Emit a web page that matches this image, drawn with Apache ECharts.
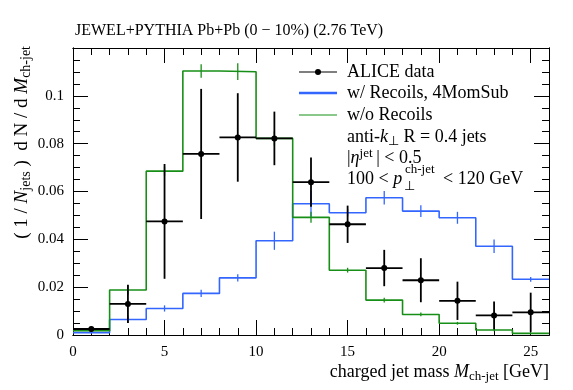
<!DOCTYPE html>
<html>
<head>
<meta charset="utf-8">
<script src="https://cdn.jsdelivr.net/npm/echarts@6/dist/echarts.min.js"></script>
<style>
html,body{margin:0;padding:0;background:#fff;}
#chart{width:573px;height:390px;}
</style>
</head>
<body>
<div id="chart"></div>
<script>
/* data */
var binEdges = [0, 2, 4, 6, 8, 10, 12, 14, 16, 18, 20, 22, 24, 26];
var noRecoils = [0.0018, 0.0188, 0.0685, 0.1104, 0.1101, 0.0822, 0.0492, 0.0271, 0.0146, 0.0086, 0.0049, 0.0021, 0.0007];
var noRecoilsErr = [0.0005, 0.002, 0.0019, 0.0028, 0.0035, 0.003, 0.0023, 0.001, 0.001, 0.0008, 0.0006, 0.0005, 0.0003];
var withRecoils = [0.0010, 0.0065, 0.0111, 0.0174, 0.0239, 0.0394, 0.0549, 0.0511, 0.0574, 0.0518, 0.0490, 0.0371, 0.0233];
var withRecoilsErr = [0.0003, 0.0015, 0.0013, 0.0015, 0.0015, 0.0038, 0.0055, 0.0015, 0.0028, 0.0025, 0.0025, 0.0028, 0.001];
var aliceX = [1, 3, 5, 7, 9, 11, 13, 15, 17, 19, 21, 23, 25];
var aliceXErr = [1, 1, 1, 1, 1, 1, 1, 1, 1, 1, 1, 1, 1];
var aliceY = [0.0025, 0.0130, 0.0475, 0.0757, 0.0826, 0.0822, 0.0639, 0.0463, 0.0280, 0.0229, 0.0143, 0.0082, 0.0095];
var aliceYErr = [0.001, 0.008, 0.024, 0.0272, 0.0185, 0.0112, 0.0103, 0.0078, 0.0076, 0.0092, 0.008, 0.0058, 0.0082];
var xTickValues = [0, 5, 10, 15, 20, 25];
var xTickLabels = ['0', '5', '10', '15', '20', '25'];
var yTickValues = [0, 0.02, 0.04, 0.06, 0.08, 0.1];
var yTickLabels = ['0', '0.02', '0.04', '0.06', '0.08', '0.1'];

var FONT = 'Liberation Serif';
var BLUE = '#3366ff';
var GREEN = '#178f17';

var myChart = echarts.init(document.getElementById('chart'));

/* step line points: left edge of every bin, plus the last right edge */
function stepData(vals){
	var d = [];
	for (var i = 0; i < vals.length; i++) d.push([binEdges[i], vals[i]]);
	d.push([binEdges[binEdges.length - 1], vals[vals.length - 1]]);
	return d;
}
function errData(vals, errs){
	return vals.map(function(v, i){ return [(binEdges[i] + binEdges[i + 1]) / 2, v, errs[i]]; });
}
function pickLabel(values, labels){
	return function(v){
		for (var i = 0; i < values.length; i++) {
			if (Math.abs(v - values[i]) < 1e-9) return labels[i];
		}
		return '';
	};
}

function xAx(pos, step, len, lab){
	return {
		type: 'value', min: 0, max: 26, interval: step, position: pos, offset: 0,
		axisLine: {show: true, onZero: false, lineStyle: {color: '#000', width: 1}},
		axisTick: {show: true, inside: true, length: len, lineStyle: {color: '#000', width: 1}},
		axisLabel: {show: lab, margin: 10, color: '#000', fontFamily: FONT, fontSize: 15,
			formatter: pickLabel(xTickValues, xTickLabels)},
		splitLine: {show: false}
	};
}
function yAx(pos, step, len, lab){
	return {
		type: 'value', min: 0, max: 0.12, interval: step, position: pos, offset: 0,
		axisLine: {show: true, onZero: false, lineStyle: {color: '#000', width: 1}},
		axisTick: {show: true, inside: true, length: len, lineStyle: {color: '#000', width: 1}},
		axisLabel: {show: lab, margin: 9, color: '#000', fontFamily: FONT, fontSize: 15,
			formatter: pickLabel(yTickValues, yTickLabels)},
		splitLine: {show: false}
	};
}

function mcErr(color){
	return function(params, api){
		var x = api.value(0), y = api.value(1), e = api.value(2);
		var a = api.coord([x, y + e]), b = api.coord([x, y - e]);
		return {type: 'line', shape: {x1: a[0], y1: a[1], x2: b[0], y2: b[1]},
			style: {stroke: color, lineWidth: 1.3}};
	};
}

function aliceItem(params, api){
	var x = api.value(0), y = api.value(1), ex = api.value(2), ey = api.value(3);
	var c = api.coord([x, y]);
	var l = api.coord([x - ex, y]), r = api.coord([x + ex, y]);
	var t = api.coord([x, y + ey]), b = api.coord([x, Math.max(0, y - ey)]);
	return {type: 'group', children: [
		{type: 'line', shape: {x1: l[0], y1: l[1], x2: r[0], y2: r[1]}, style: {stroke: '#000', lineWidth: 1.8}},
		{type: 'line', shape: {x1: t[0], y1: t[1], x2: b[0], y2: b[1]}, style: {stroke: '#000', lineWidth: 1.8}},
		{type: 'circle', shape: {cx: c[0], cy: c[1], r: 3}, style: {fill: '#000'}}
	]};
}

function richText(x, y, text, rich, extra){
	var st = {x: x, y: y, text: text, fontFamily: FONT, fontSize: 18, fill: '#000',
		textVerticalAlign: 'middle', rich: rich};
	for (var k in extra) st[k] = extra[k];
	return {type: 'text', style: st, z: 100};
}
function richSet(big, small){
	return {
		n: {fontFamily: FONT, fontSize: big, lineHeight: 22, verticalAlign: 'middle'},
		i: {fontFamily: FONT, fontSize: big, fontStyle: 'italic', lineHeight: 22, verticalAlign: 'middle'},
		sub: {fontFamily: FONT, fontSize: small, lineHeight: small, verticalAlign: 'bottom'},
		sup: {fontFamily: FONT, fontSize: small, lineHeight: small, verticalAlign: 'top'}
	};
}
var richLegend = richSet(18, 13);
var richAxis = richSet(18, 13);
var richY = richSet(19, 14);

var option = {
	animation: false,
	backgroundColor: '#fff',
	title: {
		text: 'JEWEL+PYTHIA Pb+Pb (0 \u2212 10%) (2.76 TeV)',
		left: 70, top: 18,
		textStyle: {fontFamily: FONT, fontSize: 16, fontWeight: 'normal', color: '#000'}
	},
	grid: {left: 73, right: 24, top: 48, bottom: 55},
	xAxis: [xAx('bottom', 1, 7, false), xAx('bottom', 5, 15, true), xAx('top', 1, 7, false), xAx('top', 5, 15, false)],
	yAxis: [yAx('left', 0.005, 7, false), yAx('left', 0.02, 15, true), yAx('right', 0.005, 7, false), yAx('right', 0.02, 15, false)],
	series: [
		{name: 'w/o Recoils', type: 'line', step: 'end', data: stepData(noRecoils), showSymbol: false,
			lineStyle: {color: GREEN, width: 1.6}, itemStyle: {color: GREEN}, z: 3},
		{name: 'w/ Recoils, 4MomSub', type: 'line', step: 'end', data: stepData(withRecoils), showSymbol: false,
			lineStyle: {color: BLUE, width: 1.6}, itemStyle: {color: BLUE}, z: 2},
		{type: 'custom', renderItem: mcErr(GREEN), data: errData(noRecoils, noRecoilsErr), z: 3},
		{type: 'custom', renderItem: mcErr(BLUE), data: errData(withRecoils, withRecoilsErr), z: 2},
		{name: 'ALICE data', type: 'custom', renderItem: aliceItem, z: 5,
			data: aliceX.map(function(x, i){ return [x, aliceY[i], aliceXErr[i], aliceYErr[i]]; })}
	],
	graphic: [
		/* legend */
		{type: 'line', shape: {x1: 299, y1: 72, x2: 337, y2: 72}, style: {stroke: '#000', lineWidth: 1.2}, z: 100},
		{type: 'circle', shape: {cx: 318, cy: 72, r: 3}, style: {fill: '#000'}, z: 100},
		{type: 'line', shape: {x1: 299, y1: 93, x2: 337, y2: 93}, style: {stroke: BLUE, lineWidth: 2.5}, z: 100},
		{type: 'line', shape: {x1: 299, y1: 115, x2: 337, y2: 115}, style: {stroke: GREEN, lineWidth: 1.2}, z: 100},
		richText(347, 72, 'ALICE data', richLegend),
		richText(347, 93, 'w/ Recoils, 4MomSub', richLegend),
		richText(347, 115, 'w/o Recoils', richLegend),
		richText(347, 137, '{n|anti-}{i|k}{sub|\u22a5}{n| R = 0.4 jets}', richLegend),
		richText(347, 158, '{n||}{i|\u03b7}{sup|jet}{n|\u2009| < 0.5}', richLegend),
		richText(347, 179, '{n|100 < }{i|p}', richLegend),
		{type: 'text', z: 100, style: {x: 405, y: 170, text: 'ch-jet', fontFamily: FONT, fontSize: 13, fill: '#000', textVerticalAlign: 'middle'}},
		{type: 'text', z: 100, style: {x: 404, y: 187, text: '\u22a5', fontFamily: FONT, fontSize: 13, fill: '#000', textVerticalAlign: 'middle'}},
		richText(443, 179, '< 120 GeV', richLegend),
		/* axis titles */
		richText(549, 372, '{n|charged jet mass }{i|M}{sub|ch-jet}{n| [GeV]}', richAxis, {textAlign: 'right'}),
		{type: 'text', z: 100, x: 22, y: 46, rotation: Math.PI / 2,
			style: {x: 0, y: 0, text: '{n|( 1 / }{i|N}{sub|jets}{n| )  d N / d }{i|M}{sub|ch-jet}',
				fontFamily: FONT, fontSize: 19, fill: '#000', textAlign: 'right', textVerticalAlign: 'middle', rich: richY}}
	]
};

myChart.setOption(option);
</script>
</body>
</html>
